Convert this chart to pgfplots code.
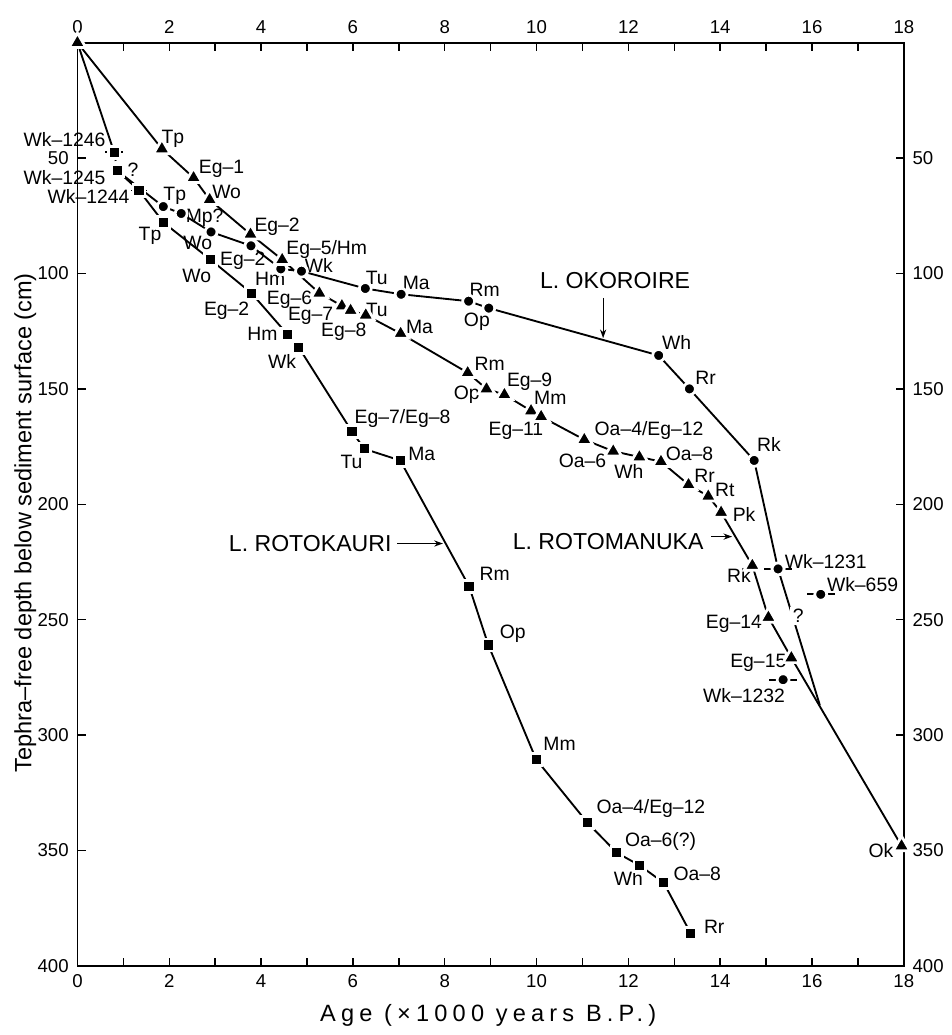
\documentclass[border=0pt]{standalone}
\usepackage{fontspec}
\setmainfont{Liberation Sans}
\newfontfamily\spacedfont[LetterSpace=22]{Liberation Sans}
\usepackage{pgfplots}
\pgfplotsset{compat=1.18}
\usetikzlibrary{arrows.meta}

\pgfplotsset{
  base/.style={
    width=333pt, height=372pt, scale only axis,
    xmin=0, xmax=18, ymin=0, ymax=400, y dir=reverse,
    xtick={0,2,...,18}, ytick={50,100,...,400}, minor x tick num=1,
    tick label style={font=\fontsize{7.5}{8}\selectfont},
    /pgf/number format/assume math mode=true,
    major tick length=3.3pt, minor tick length=3.3pt,
    tick style={line width=0.6pt, black},
    axis line style={line width=0.7pt},
  },
  sq/.style={mark=square*, mark size=2.4pt, mark options={solid, fill=black, draw=white, line width=1.1pt}},
  ci/.style={mark=*, mark size=2.4pt, mark options={solid, fill=black, draw=white, line width=1.1pt}},
  tr/.style={mark=triangle*, mark size=3.9pt, mark options={solid, fill=black, draw=white, line width=1.1pt}},
  ln/.style={black, line width=0.75pt},
  eb/.style={only marks, error bars/.cd, x dir=both, x explicit, error mark=none,
    error bar style={line width=0.7pt, black}},
}
\tikzset{
  lab/.style={font=\fontsize{7.8}{9}\selectfont, inner sep=0pt},
  lake/.style={font=\fontsize{9.3}{10}\selectfont, inner sep=0pt},
}

\begin{document}
\begin{tikzpicture}
% upper and right tick labels
\begin{axis}[base, xticklabel pos=upper, yticklabel pos=right,
  axis line style={draw=none}, tick style={draw=none},
  major tick length=0pt, minor tick length=0pt]
\end{axis}

\begin{axis}[base, name=main, clip=false, axis on top,
  xticklabel pos=lower, yticklabel pos=left,
  xlabel={Age (×1000 years B.P.)},
  xlabel style={font=\spacedfont\fontsize{9.5}{11}\selectfont, at={(axis description cs:0.497,-0.054)}, anchor=center},
  ylabel={Tephra–free depth below sediment surface (cm)},
  ylabel style={font=\fontsize{9.5}{11}\selectfont, at={(axis description cs:-0.063,0.48)}, anchor=center},
]

% L. Rotokauri (squares)
\addplot[ln] coordinates {(0,0) (0.8,47.5)};
\addplot[ln, dotted] coordinates {(0.8,47.5) (0.87,55.5)};
\addplot[ln] coordinates {(0.87,55.5) (1.87,71)};
\addplot[ln, sq] coordinates {
  (0.87,55.5) (1.34,64) (1.88,78) (2.9,94) (3.79,108.5) (4.58,126.5) (4.82,132)
  (5.98,168.5) (6.25,176) (7.03,181) (8.53,235.5) (8.95,261) (9.99,310.5)
  (11.11,338) (11.75,351) (12.25,356.5) (12.77,364) (13.36,386)};
\addplot[ln, sq, eb] coordinates {(0.8,47.5) +- (0.2,0) (0.87,55.5) +- (0.16,0) (1.34,64) +- (0.18,0)};

% L. Okoroire (circles)
\addplot[ln, ci] coordinates {
  (1.87,71) (2.26,74) (2.91,82) (3.78,88) (4.43,98) (4.88,99) (6.27,106.5)
  (7.05,109) (8.52,112) (8.96,115) (12.66,135.5) (13.33,150) (14.74,181) (15.26,228)};
\addplot[ln] coordinates {(15.26,228) (16.17,287)};
\addplot[ln, ci, eb] coordinates {(15.26,228) +- (0.3,0) (16.19,239) +- (0.3,0) (15.37,276) +- (0.3,0)};

% L. Rotomanuka (triangles)
\addplot[ln, tr] coordinates {
  (0,0) (1.84,46) (2.53,58.5) (2.88,68) (3.77,83) (4.46,94) (5.27,108.5)
  (5.76,114) (5.95,116) (6.28,118) (7.04,126) (8.5,143) (8.91,150) (9.3,152.5)
  (9.88,159.5) (10.1,162) (11.04,172) (11.67,177) (12.24,179.5) (12.71,181.5)
  (13.31,191.5) (13.74,196.5) (14.02,203.5) (14.7,226.5) (15.05,249) (15.55,266.5)
  (17.95,348)};

% labels, L. Rotokauri
\node[lab] at (axis cs:-0.28,42) {Wk--1246};
\node[lab] at (axis cs:-0.28,58.6) {Wk--1245};
\node[lab] at (axis cs:0.24,66.5) {Wk--1244};
\node[lab] at (axis cs:1.21,55) {?};
\node[lab] at (axis cs:1.58,83.5) {Tp};
\node[lab] at (axis cs:2.6,101) {Wo};
\node[lab] at (axis cs:3.25,116) {Eg--2};
\node[lab] at (axis cs:4.03,126) {Hm};
\node[lab] at (axis cs:4.46,138) {Wk};
\node[lab] at (axis cs:7.08,162.7) {Eg--7/Eg--8};
\node[lab] at (axis cs:5.97,181.7) {Tu};
\node[lab] at (axis cs:7.5,178) {Ma};
\node[lab] at (axis cs:9.09,230) {Rm};
\node[lab] at (axis cs:9.48,256) {Op};
\node[lab] at (axis cs:10.5,304) {Mm};
\node[lab] at (axis cs:12.49,332) {Oa--4/Eg--12};
\node[lab] at (axis cs:12.7,346) {Oa--6(?)};
\node[lab] at (axis cs:12.0,362) {Wh};
\node[lab] at (axis cs:13.5,360) {Oa--8};
\node[lab] at (axis cs:13.87,383) {Rr};

% labels, L. Okoroire
\node[lab] at (axis cs:2.12,66.3) {Tp};
\node[lab] at (axis cs:2.77,76) {Mp?};
\node[lab] at (axis cs:2.62,86.6) {Wo};
\node[lab] at (axis cs:3.6,94.4) {Eg--2};
\node[lab] at (axis cs:4.2,102.3) {Hm};
\node[lab] at (axis cs:5.26,96.7) {Wk};
\node[lab] at (axis cs:6.52,102) {Tu};
\node[lab] at (axis cs:7.38,104) {Ma};
\node[lab] at (axis cs:8.87,107) {Rm};
\node[lab] at (axis cs:8.7,121) {Op};
\node[lab] at (axis cs:13.05,130) {Wh};
\node[lab] at (axis cs:13.68,145) {Rr};
\node[lab] at (axis cs:15.06,174) {Rk};
\node[lab] at (axis cs:16.3,225) {Wk--1231};
\node[lab] at (axis cs:17.1,235) {Wk--659};
\node[lab, fill=white, inner sep=1pt] at (axis cs:15.7,248.4) {?};
\node[lab] at (axis cs:14.52,283) {Wk--1232};

% labels, L. Rotomanuka
\node[lab] at (axis cs:2.08,41.6) {Tp};
\node[lab] at (axis cs:3.14,54.8) {Eg--1};
\node[lab] at (axis cs:3.25,64.8) {Wo};
\node[lab] at (axis cs:4.35,79.6) {Eg--2};
\node[lab] at (axis cs:5.43,89.5) {Eg--5/Hm};
\node[lab] at (axis cs:4.62,111.5) {Eg--6};
\node[lab] at (axis cs:5.08,118.5) {Eg--7};
\node[lab] at (axis cs:5.8,125.3) {Eg--8};
\node[lab] at (axis cs:6.52,116) {Tu};
\node[lab] at (axis cs:7.45,123) {Ma};
\node[lab] at (axis cs:8.98,139) {Rm};
\node[lab] at (axis cs:8.48,152.4) {Op};
\node[lab] at (axis cs:9.85,146.8) {Eg--9};
\node[lab] at (axis cs:10.3,154) {Mm};
\node[lab] at (axis cs:9.55,168) {Eg--11};
\node[lab] at (axis cs:12.45,168) {Oa--4/Eg--12};
\node[lab] at (axis cs:11.0,181) {Oa--6};
\node[lab] at (axis cs:12.01,186) {Wh};
\node[lab] at (axis cs:13.33,178) {Oa--8};
\node[lab] at (axis cs:13.66,187.6) {Rr};
\node[lab] at (axis cs:14.1,193.7) {Rt};
\node[lab] at (axis cs:14.52,204.4) {Pk};
\node[lab] at (axis cs:14.41,231) {Rk};
\node[lab] at (axis cs:14.3,252) {Eg--14};
\node[lab] at (axis cs:14.83,268.5) {Eg--15};
\node[lab] at (axis cs:17.5,350) {Ok};

% lake names
\node[lake] at (axis cs:11.71,103.2) {L. OKOROIRE};
\draw[line width=0.5pt, -{Stealth[length=3.5pt,width=2.5pt]}] (axis cs:11.45,110.6) -- (axis cs:11.45,128);
\node[lake] at (axis cs:5.07,217) {L. ROTOKAURI};
\draw[line width=0.5pt, -{Stealth[length=3.5pt,width=2.5pt]}] (axis cs:6.97,217) -- (axis cs:7.96,217);
\node[lake] at (axis cs:11.56,216) {L. ROTOMANUKA};
\draw[line width=0.5pt, -{Stealth[length=3.5pt,width=2.5pt]}] (axis cs:13.8,214) -- (axis cs:14.26,214);
\end{axis}
\path ([xshift=-31.2pt,yshift=-25.6pt]main.south west) rectangle ([xshift=18pt,yshift=17.2pt]main.north east);
\end{tikzpicture}
\end{document}
